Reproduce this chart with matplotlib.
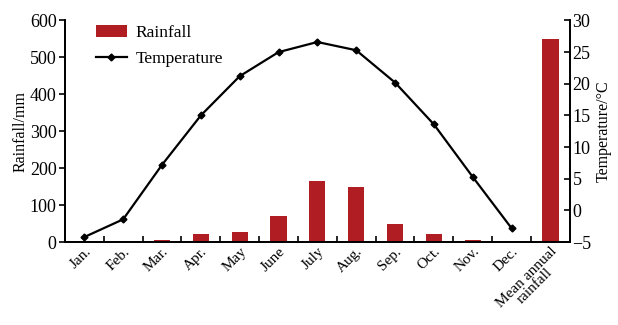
import numpy as np
import matplotlib.pyplot as plt

plt.rcParams['font.family'] = ['Liberation Serif', 'DejaVu Serif']

# Data
months = ['Jan.', 'Feb.', 'Mar.', 'Apr.', 'May', 'June', 'July', 'Aug.',
          'Sep.', 'Oct.', 'Nov.', 'Dec.', 'Mean annual\nrainfall']
rainfall = [0, 2, 6, 21, 27, 70, 166, 150, 48, 21, 5, 0, 550]
temperature = [-4.2, -1.4, 7.2, 15.0, 21.2, 25.0, 26.6, 25.3, 20.2, 13.6, 5.3, -2.8]

x = np.arange(len(months))

fig, ax = plt.subplots(figsize=(6.18, 3.25), dpi=100)
fig.subplots_adjust(left=0.105, right=0.922, top=0.937, bottom=0.255)

ax.bar(x, rainfall, width=0.42, color='#b01e23', label='Rainfall', zorder=2)
ax.set_xlim(-0.5, len(months) - 0.5)
ax.set_ylim(0, 600)
ax.set_yticks(range(0, 601, 100))
ax.set_ylabel('Rainfall/mm', fontsize=11.5, labelpad=1)

ax2 = ax.twinx()
ax2.plot(x[:12], temperature, color='black', marker='D', markersize=3.5,
         linewidth=1.6, label='Temperature', zorder=3)
ax2.set_ylim(-5, 30)
ax2.set_yticks(range(-5, 31, 5))
ax2.set_yticklabels([str(v).replace('-', '\u2212') for v in range(-5, 31, 5)])
ax2.set_ylabel('Temperature/\u00b0C', fontsize=11.5, labelpad=3)

ax.set_xticks(x)
ax.set_xticklabels(months, rotation=45, ha='right', rotation_mode='anchor',
                   fontsize=11, linespacing=0.85, multialignment='center')
ax.tick_params(axis='x', length=0, pad=2)
ax.set_xticks(x[:-1] + 0.5, minor=True)
ax.tick_params(axis='x', which='minor', direction='in', length=4, width=1.2)
ax.tick_params(axis='y', direction='out', length=4, width=1.2, labelsize=13, pad=2)
ax2.tick_params(axis='y', direction='in', length=4, width=1.2, labelsize=13, pad=2)

for a in (ax, ax2):
    a.spines['top'].set_visible(False)
    for s in ('left', 'right', 'bottom'):
        a.spines[s].set_linewidth(1.3)

h1, l1 = ax.get_legend_handles_labels()
h2, l2 = ax2.get_legend_handles_labels()
ax2.legend(h1 + h2, l1 + l2, loc='upper left', bbox_to_anchor=(0.03, 1.05),
           frameon=False, fontsize=12.5, handlelength=1.8, handletextpad=0.5,
           labelspacing=0.55)

fig.savefig('out.png', dpi=100)
